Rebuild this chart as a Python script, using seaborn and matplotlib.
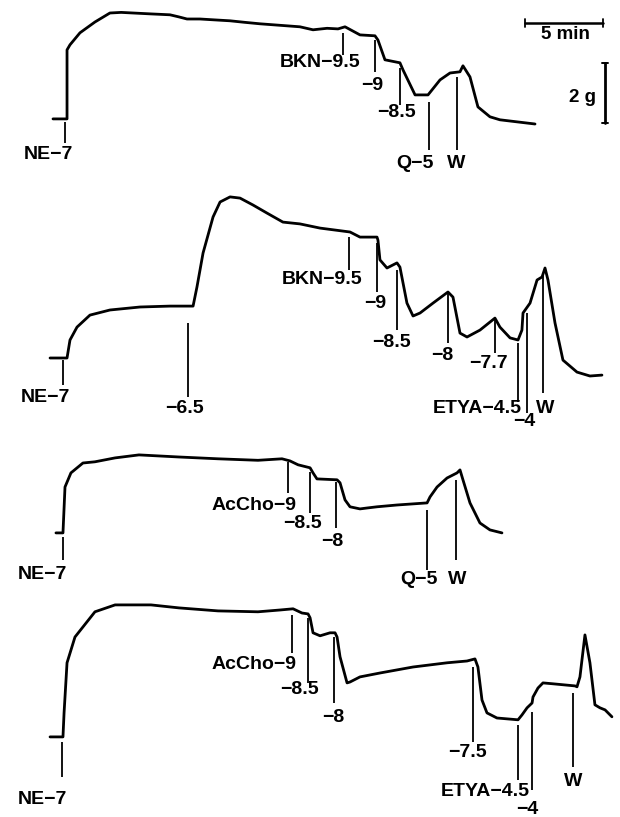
import matplotlib
matplotlib.use("Agg")
import matplotlib.pyplot as plt
import pandas as pd
import seaborn as sns

# Tension traces: time in min (0 = NE addition), tension in g above resting baseline

# Panel A: NE, then bradykinin (BKN), quinacrine (Q), wash
a_time = [-0.77, 0.13, 0.13, 0.32, 0.96, 1.92, 2.88, 3.6, 4.36, 5.5, 6.73, 7.3, 7.82, 8.65,
          9.6, 10.58, 11.5, 12.5, 13.78, 15.06, 15.9, 16.8, 17.5, 17.95, 18.91, 19.87,
          20.06, 20.51, 21.47, 21.67, 22.44, 23.27, 24.04, 24.68, 25.32, 25.51, 25.96,
          26.47, 27.24, 27.88, 29.0, 30.13]
a_tension = [0, 0, 2.30, 2.47, 2.87, 3.23, 3.53, 3.55, 3.53, 3.50, 3.47, 3.40, 3.33, 3.33,
             3.30, 3.27, 3.22, 3.17, 3.12, 3.07, 2.97, 3.02, 3.00, 3.07, 2.80, 2.77,
             2.63, 1.97, 1.87, 1.63, 0.80, 0.80, 1.30, 1.53, 1.57, 1.77, 1.40,
             0.40, 0.07, -0.03, -0.10, -0.17]
a_marks = ["NE−7", "BKN−9.5", "−9", "−8.5", "Q−5", "W"]
a_mark_time = [0, 17.82, 19.87, 21.47, 23.33, 25.13]

# Panel B: NE, NE -6.5, BKN, ETYA, wash
b_time = [-0.96, 0.13, 0.32, 0.77, 1.6, 2.88, 4.81, 6.73, 8.21, 8.46, 8.85, 9.49, 9.94,
          10.58, 11.22, 12.05, 12.95, 13.97, 15.06, 16.35, 18.27, 18.91, 20.0, 20.06,
          20.19, 20.64, 21.28, 21.47, 21.92, 22.31, 22.76, 23.59, 24.55, 24.87, 25.32,
          25.77, 26.6, 27.56, 27.88, 28.53, 29.04, 29.29, 29.36, 29.81, 30.26, 30.58,
          30.77, 30.96, 31.41, 31.92, 32.82, 33.65, 34.42]
b_tension = [0, 0, 0.60, 1.03, 1.43, 1.60, 1.70, 1.73, 1.73, 2.37, 3.50, 4.70, 5.20,
             5.37, 5.33, 5.10, 4.83, 4.53, 4.47, 4.33, 4.20, 4.03, 4.03, 3.93,
             3.27, 3.00, 3.17, 3.03, 1.83, 1.40, 1.50, 1.83, 2.20, 2.03, 0.83,
             0.70, 0.93, 1.33, 1.03, 0.67, 0.60, 0.93, 1.50, 1.83, 2.60, 2.70,
             3.00, 2.60, 1.17, -0.07, -0.47, -0.60, -0.57]
b_marks = ["NE−7", "−6.5", "BKN−9.5", "−9", "−8.5", "−8", "−7.7", "ETYA−4.5", "−4", "W"]
b_mark_time = [-0.13, 7.88, 18.21, 20.0, 21.28, 24.55, 27.56, 29.04, 29.62, 30.64]

# Panel C: NE, acetylcholine (AcCho), quinacrine, wash
c_time = [-0.58, -0.13, 0, 0.38, 1.15, 1.92, 3.21, 4.74, 7.31, 9.81, 12.37, 13.91, 14.42,
          14.94, 15.71, 15.9, 16.15, 17.44, 17.63, 17.95, 18.27, 18.91, 19.36, 20.0,
          21.28, 23.21, 23.4, 23.85, 24.49, 25.13, 25.32, 25.51, 25.96, 26.6, 27.24, 28.01]
c_tension = [0, 0, 1.53, 2.00, 2.33, 2.37, 2.50, 2.60, 2.53, 2.47, 2.42, 2.47, 2.40,
             2.27, 2.17, 2.00, 1.80, 1.77, 1.67, 1.10, 0.87, 0.80, 0.83, 0.87,
             0.93, 1.00, 1.20, 1.53, 1.83, 2.00, 2.10, 1.77, 1.00, 0.33, 0.10, 0]
c_marks = ["NE−7", "AcCho−9", "−8.5", "−8", "Q−5", "W"]
c_mark_time = [-0.13, 14.29, 15.71, 17.37, 23.21, 25.06]

# Panel D: NE, AcCho, ETYA, wash
d_time = [-0.96, -0.13, -0.06, 0.13, 0.64, 1.92, 3.21, 5.51, 7.31, 9.81, 12.37, 13.78,
          14.62, 15.19, 15.58, 15.71, 15.9, 16.35, 16.99, 17.31, 17.44, 17.63, 18.08,
          18.27, 18.91, 20.19, 22.31, 24.49, 25.77, 26.28, 26.47, 26.73, 27.05, 27.69,
          29.04, 29.29, 29.62, 29.94, 30.0, 30.32, 30.64, 31.28, 32.69, 32.82, 33.01,
          33.33, 33.65, 33.97, 34.29, 34.62, 35.06]
d_tension = [0, 0, 0.80, 2.47, 3.33, 4.17, 4.40, 4.40, 4.30, 4.20, 4.17, 4.23,
             4.27, 4.13, 4.10, 3.97, 3.47, 3.37, 3.47, 3.47, 3.33, 2.67, 1.80,
             1.83, 2.00, 2.13, 2.33, 2.47, 2.53, 2.60, 2.33, 1.23, 0.80, 0.63,
             0.57, 0.73, 0.97, 1.13, 1.33, 1.63, 1.80, 1.77, 1.70, 1.67, 2.00,
             3.40, 2.47, 1.07, 0.97, 0.90, 0.67]
d_marks = ["NE−7", "AcCho−9", "−8.5", "−8", "−7.5", "ETYA−4.5", "−4", "W"]
d_mark_time = [-0.19, 14.55, 15.58, 17.24, 26.15, 29.04, 29.94, 32.56]

# layout: vertical offset of each trace (g), marker line spans, label anchors (t, g, ha)
panels = [
    dict(t=a_time, g=a_tension, marks=a_marks, mt=a_mark_time, offset=23.27,
         span=[(-0.10, -0.80), (2.87, 2.13), (2.63, 1.57), (1.70, 0.47), (0.57, -1.03), (1.40, -1.03)],
         lab=[(-1.09, -1.2, "center"), (18.91, 1.87, "right"), (19.68, 1.13, "center"),
              (21.28, 0.20, "center"), (22.44, -1.47, "center"), (25.06, -1.47, "center")]),
    dict(t=b_time, g=b_tension, marks=b_marks, mt=b_mark_time, offset=15.3,
         span=[(-0.07, -0.90), (1.17, -1.30), (4.03, 2.93), (3.83, 2.20), (2.93, 0.93),
               (2.17, 0.50), (1.27, 0.17), (0.50, -1.47), (1.50, -1.83), (2.83, -1.17)],
         lab=[(-1.28, -1.33, "center"), (7.69, -1.67, "center"), (19.04, 2.60, "right"),
              (19.87, 1.83, "center"), (20.90, 0.53, "center"), (24.17, 0.10, "center"),
              (27.12, -0.17, "center"), (29.30, -1.67, "right"), (29.42, -2.13, "center"),
              (30.77, -1.67, "center")]),
    dict(t=c_time, g=c_tension, marks=c_marks, mt=c_mark_time, offset=9.47,
         span=[(-0.13, -0.90), (2.37, 1.33), (2.03, 0.67), (1.70, 0.17), (0.77, -1.23), (1.77, -0.90)],
         lab=[(-1.47, -1.40, "center"), (14.81, 0.90, "right"), (15.25, 0.33, "center"),
              (17.12, -0.30, "center"), (22.70, -1.57, "center"), (25.12, -1.57, "center")]),
    dict(t=d_time, g=d_tension, marks=d_marks, mt=d_mark_time, offset=2.67,
         span=[(-0.17, -1.33), (4.07, 2.80), (3.97, 1.80), (3.33, 1.13), (2.33, -0.17),
               (0.40, -1.43), (0.83, -1.77), (1.47, -1.00)],
         lab=[(-1.47, -2.10, "center"), (14.81, 2.40, "right"), (15.06, 1.57, "center"),
              (17.18, 0.63, "center"), (25.77, -0.53, "center"), (29.81, -1.83, "right"),
              (29.62, -2.43, "center"), (32.56, -1.50, "center")]),
]

sns.set_theme(style="white")
plt.rcParams['font.family'] = ['Liberation Sans', 'DejaVu Sans']

fig = plt.figure(figsize=(6.2, 8.17), dpi=100)
ax = fig.add_axes([0, 0, 1, 1])

for p in panels:
    df = pd.DataFrame({'time': p['t'], 'tension': [v + p['offset'] for v in p['g']]})
    sns.lineplot(data=df, x='time', y='tension', ax=ax, color='black', lw=2.0,
                 sort=False, estimator=None, solid_joinstyle='round',
                 solid_capstyle='round')
    for mt, (top, bot), name, (lx, ly, ha) in zip(p['mt'], p['span'], p['marks'], p['lab']):
        ax.vlines(mt, bot + p['offset'], top + p['offset'], color='black', lw=1.3)
        ax.text(lx, ly + p['offset'], name, ha=ha, va='center', fontsize=14,
                fontweight='bold', color='black')

# scale bars: 5 min and 2 g
off = panels[0]['offset']
ax.plot([29.49, 34.49], [3.2 + off, 3.2 + off], color='black', lw=1.8)
ax.plot([29.49, 29.49], [3.08 + off, 3.32 + off], color='black', lw=1.3)
ax.plot([34.49, 34.49], [3.08 + off, 3.32 + off], color='black', lw=1.3)
ax.text(32.05, 2.82 + off, "5 min", ha='center', va='center', fontsize=13.5,
        fontweight='bold', color='black')
ax.plot([34.62, 34.62], [-0.13 + off, 1.87 + off], color='black', lw=2.0)
ax.plot([34.42, 34.82], [1.87 + off, 1.87 + off], color='black', lw=1.4)
ax.plot([34.42, 34.82], [-0.13 + off, -0.13 + off], color='black', lw=1.4)
ax.text(33.2, 0.73 + off, "2 g", ha='center', va='center', fontsize=13.5,
        fontweight='bold', color='black')

ax.set_xlim(-65 / 15.6, 555 / 15.6)
ax.set_ylim(0, 817 / 30)
ax.axis('off')

fig.savefig('out.png', dpi=100)
